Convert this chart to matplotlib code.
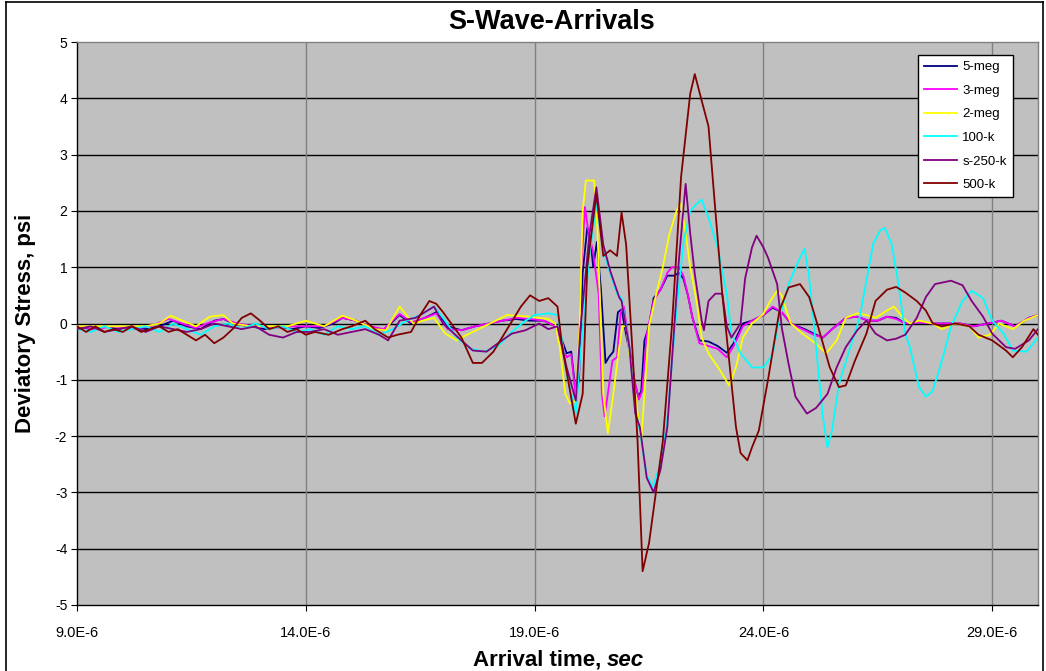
import matplotlib
matplotlib.use("Agg")
import matplotlib.pyplot as plt
from matplotlib.lines import Line2D

# ---------------- data (time in microseconds, stress in psi) ----------------
t_5meg = [9.0, 9.3, 9.6, 9.9, 10.2, 10.5, 10.8, 11.1, 11.4, 11.7, 12.0, 12.2, 12.5, 12.8, 13.1, 13.4, 13.7,
          14.0, 14.3, 14.6, 14.8, 15.1, 15.4, 15.7, 16.05, 16.3, 16.6, 16.85, 17.1, 17.4, 17.7, 18.0, 18.3,
          18.6, 18.9, 19.2, 19.45, 19.6, 19.7, 19.8, 19.9, 19.97, 20.05, 20.15, 20.22, 20.28, 20.36, 20.45,
          20.55, 20.62, 20.72, 20.82, 20.9, 21.0, 21.1, 21.2, 21.27, 21.33, 21.4, 21.5, 21.6, 21.75, 21.9,
          22.05, 22.15, 22.25, 22.35, 22.45, 22.6, 22.8, 23.0, 23.2, 23.35, 23.55, 23.75, 24.0, 24.2, 24.4,
          24.6, 24.9, 25.1, 25.3, 25.5, 25.8, 26.05, 26.3, 26.5, 26.7, 26.9, 27.1, 27.4, 27.7, 28.0, 28.3,
          28.6, 28.9, 29.2, 29.5, 29.8, 30.0]
v_5meg = [-0.05, -0.1, -0.05, -0.1, -0.05, -0.1, -0.05, 0.05, -0.05, -0.1, 0.05, 0.08, -0.02, -0.05, -0.1,
          -0.05, -0.1, -0.05, -0.08, 0.0, 0.1, 0.05, -0.05, -0.12, 0.15, 0.0, 0.1, 0.2, -0.05, -0.12, -0.05,
          0.0, 0.05, 0.08, 0.05, 0.05, -0.05, -0.3, -0.53, -0.5, -1.25, -1.0, 0.9, 1.7, 1.5, 1.0, 1.45, 0.6,
          -0.7, -0.6, -0.5, 0.2, 0.25, -0.2, -0.6, -1.1, -1.3, -1.2, -0.3, -0.05, 0.45, 0.6, 0.85, 0.85, 0.9,
          0.8, 0.5, 0.1, -0.3, -0.32, -0.4, -0.52, -0.35, 0.0, 0.05, 0.15, 0.28, 0.2, 0.0, -0.1, -0.18, -0.25,
          -0.1, 0.1, 0.12, 0.05, 0.05, 0.12, 0.1, 0.0, 0.02, 0.0, 0.0, 0.0, -0.05, 0.0, 0.05, -0.05, 0.1, 0.15]

t_3meg = [9.0, 9.4, 9.8, 10.2, 10.6, 11.0, 11.3, 11.6, 11.9, 12.2, 12.5, 12.9, 13.3, 13.7, 14.0, 14.4, 14.8,
          15.1, 15.4, 15.7, 16.05, 16.3, 16.6, 16.85, 17.1, 17.4, 17.7, 18.0, 18.3, 18.6, 18.9, 19.2, 19.45,
          19.6, 19.7, 19.8, 19.9, 19.95, 20.02, 20.1, 20.18, 20.27, 20.4, 20.47, 20.53, 20.62, 20.7, 20.8,
          20.88, 20.95, 21.07, 21.18, 21.28, 21.35, 21.45, 21.6, 21.75, 21.9, 22.0, 22.15, 22.25, 22.35,
          22.45, 22.6, 22.8, 23.0, 23.2, 23.35, 23.55, 23.75, 24.0, 24.2, 24.4, 24.6, 24.9, 25.1, 25.3, 25.5,
          25.8, 26.05, 26.3, 26.5, 26.7, 26.9, 27.1, 27.4, 27.7, 28.0, 28.3, 28.6, 28.9, 29.2, 29.5, 29.8, 30.0]
v_3meg = [-0.05, -0.1, -0.05, -0.1, -0.05, 0.08, 0.0, -0.08, 0.02, 0.08, 0.0, -0.05, -0.08, -0.05, -0.05,
          -0.05, 0.1, 0.05, -0.05, -0.1, 0.17, 0.02, 0.1, 0.18, -0.1, -0.12, -0.05, 0.0, 0.05, 0.1, 0.08,
          0.05, -0.05, -0.4, -0.6, -0.55, -1.3, -1.0, 1.0, 2.07, 1.6, 1.3, 0.53, -1.25, -1.65, -1.13, -0.66,
          -0.6, 0.2, 0.3, -0.4, -1.0, -1.35, -1.2, -0.2, 0.4, 0.6, 0.9, 1.0, 1.0, 0.85, 0.5, 0.1, -0.35,
          -0.4, -0.45, -0.6, -0.4, -0.05, 0.05, 0.15, 0.3, 0.2, 0.0, -0.12, -0.2, -0.25, -0.1, 0.1, 0.12,
          0.05, 0.05, 0.12, 0.08, 0.0, 0.02, 0.0, 0.0, 0.0, -0.05, 0.0, 0.05, -0.05, 0.1, 0.15]

t_2meg = [9.0, 9.5, 10.0, 10.5, 10.8, 11.05, 11.3, 11.6, 11.9, 12.2, 12.4, 12.8, 13.2, 13.6, 14.0, 14.4, 14.8,
          15.1, 15.5, 15.75, 16.05, 16.35, 16.55, 16.8, 17.05, 17.3, 17.4, 17.9, 18.4, 18.9, 19.3, 19.45,
          19.55, 19.67, 19.77, 19.9, 19.98, 20.05, 20.12, 20.3, 20.37, 20.45, 20.5, 20.6, 20.7, 20.85, 20.92,
          21.0, 21.07, 21.2, 21.33, 21.45, 21.5, 21.66, 21.8, 21.95, 22.1, 22.2, 22.3, 22.4, 22.55, 22.65,
          22.8, 23.05, 23.25, 23.4, 23.55, 23.75, 24.0, 24.15, 24.3, 24.4, 24.5, 24.6, 24.85, 25.15, 25.37,
          25.6, 25.8, 26.05, 26.25, 26.45, 26.7, 26.85, 27.05, 27.2, 27.4, 27.7, 27.9, 28.2, 28.5, 28.7,
          28.95, 29.15, 29.45, 29.7, 30.0]
v_2meg = [-0.05, -0.05, -0.05, -0.05, 0.0, 0.14, 0.05, -0.05, 0.12, 0.15, 0.0, -0.05, -0.05, -0.05, 0.05,
          -0.05, 0.14, 0.05, -0.1, -0.12, 0.3, 0.0, 0.05, 0.1, -0.18, -0.3, -0.25, -0.05, 0.15, 0.12, 0.08,
          0.0, -0.42, -1.25, -1.42, -1.37, -0.1, 2.0, 2.54, 2.54, 1.7, -0.05, -1.25, -1.95, -1.37, -0.42,
          -0.05, -0.05, -0.53, -1.25, -2.07, -0.66, -0.05, 0.53, 1.0, 1.6, 2.0, 2.13, 1.6, 1.0, 0.35, -0.25,
          -0.53, -0.83, -1.1, -0.78, -0.25, 0.0, 0.17, 0.4, 0.58, 0.5, 0.23, 0.0, -0.18, -0.36, -0.53, -0.3,
          0.1, 0.18, 0.15, 0.1, 0.23, 0.3, 0.1, 0.0, 0.05, 0.0, -0.1, 0.0, -0.05, -0.25, -0.2, 0.0, -0.1,
          0.05, 0.15]

t_100k = [9.0, 9.3, 9.6, 9.9, 10.2, 10.5, 10.8, 11.1, 11.4, 11.7, 12.0, 12.3, 12.6, 12.9, 13.2, 13.5, 13.8,
          14.1, 14.4, 14.7, 15.0, 15.3, 15.6, 15.9, 16.2, 16.5, 16.8, 17.0, 17.3, 17.6, 17.9, 18.2, 18.5,
          18.8, 19.0, 19.3, 19.5, 19.6, 19.7, 19.9, 20.0, 20.2, 20.35, 20.5, 20.65, 20.8, 20.9, 21.07, 21.2,
          21.3, 21.45, 21.58, 21.75, 21.9, 22.0, 22.1, 22.25, 22.4, 22.55, 22.65, 22.8, 23.0, 23.2, 23.3,
          23.5, 23.75, 24.0, 24.2, 24.35, 24.55, 24.8, 24.9, 25.0, 25.15, 25.3, 25.4, 25.5, 25.65, 25.9,
          26.1, 26.25, 26.4, 26.55, 26.65, 26.8, 26.95, 27.1, 27.2, 27.4, 27.55, 27.7, 27.9, 28.1, 28.35,
          28.55, 28.8, 29.0, 29.25, 29.45, 29.75, 30.0]
v_100k = [-0.1, -0.15, -0.05, -0.15, -0.1, -0.05, -0.15, 0.0, -0.1, -0.2, -0.05, 0.0, -0.1, 0.0, -0.1,
          -0.05, -0.15, -0.1, -0.2, -0.05, -0.1, -0.05, -0.2, -0.1, 0.05, 0.15, 0.3, 0.1, -0.25, -0.45,
          -0.5, -0.4, -0.15, 0.05, 0.15, 0.18, 0.15, -0.3, -0.9, -1.6, -0.55, 1.23, 2.13, 1.3, 0.9, 0.53,
          0.45, -0.42, -1.5, -1.9, -2.7, -2.9, -2.5, -1.7, -0.7, 0.23, 1.42, 2.0, 2.13, 2.2, 1.88, 1.35,
          0.53, -0.18, -0.53, -0.78, -0.78, -0.55, 0.1, 0.7, 1.17, 1.33, 0.82, -0.42, -1.67, -2.2, -1.9,
          -1.07, -0.42, 0.1, 0.76, 1.42, 1.65, 1.7, 1.42, 0.7, -0.18, -0.42, -1.13, -1.3, -1.2, -0.66,
          -0.05, 0.4, 0.58, 0.45, 0.05, -0.18, -0.48, -0.5, -0.25]

t_250k = [9.0, 9.3, 9.6, 9.9, 10.2, 10.5, 10.8, 11.1, 11.4, 11.7, 12.0, 12.3, 12.6, 12.9, 13.2, 13.5, 13.8,
          14.1, 14.4, 14.7, 15.0, 15.3, 15.6, 15.8, 16.05, 16.4, 16.8, 17.0, 17.4, 17.65, 17.95, 18.2, 18.5,
          18.8, 19.1, 19.3, 19.5, 19.7, 19.9, 20.0, 20.2, 20.35, 20.5, 20.65, 20.85, 20.9, 21.07, 21.2,
          21.3, 21.45, 21.6, 21.75, 21.9, 22.0, 22.15, 22.3, 22.4, 22.5, 22.65, 22.7, 22.8, 22.95, 23.1,
          23.2, 23.3, 23.5, 23.6, 23.75, 23.85, 24.0, 24.1, 24.3, 24.4, 24.55, 24.7, 24.95, 25.15, 25.4,
          25.6, 25.8, 26.05, 26.25, 26.45, 26.7, 26.9, 27.1, 27.35, 27.55, 27.75, 28.1, 28.35, 28.55, 28.8,
          29.0, 29.3, 29.5, 29.8, 30.0]
v_250k = [-0.1, -0.05, -0.15, -0.1, -0.05, -0.15, -0.05, -0.1, -0.15, -0.1, 0.0, -0.05, -0.1, -0.05, -0.2,
          -0.25, -0.15, -0.15, -0.1, -0.2, -0.15, -0.1, -0.2, -0.3, 0.05, 0.1, 0.3, 0.0, -0.3, -0.48, -0.5,
          -0.35, -0.18, -0.12, 0.0, -0.1, -0.05, -0.78, -1.37, -0.1, 1.6, 2.42, 1.4, 0.94, 0.46, 0.4, -0.42,
          -1.6, -1.84, -2.74, -3.0, -2.6, -1.84, -0.66, 1.1, 2.48, 1.6, 0.88, 0.05, -0.12, 0.4, 0.53, 0.53,
          -0.05, -0.25, 0.0, 0.8, 1.35, 1.56, 1.35, 1.17, 0.7, -0.07, -0.72, -1.3, -1.6, -1.5, -1.25, -0.78,
          -0.42, -0.12, 0.05, -0.18, -0.3, -0.27, -0.2, 0.1, 0.47, 0.7, 0.76, 0.68, 0.4, 0.12, -0.18, -0.42,
          -0.45, -0.3, -0.1]

t_500k = [9.0, 9.2, 9.4, 9.6, 9.8, 10.0, 10.2, 10.4, 10.6, 10.8, 11.0, 11.2, 11.4, 11.6, 11.8, 12.0, 12.2,
          12.4, 12.6, 12.8, 13.0, 13.2, 13.4, 13.6, 13.8, 14.0, 14.2, 14.5, 14.8, 15.0, 15.3, 15.5, 15.8,
          16.0, 16.3, 16.5, 16.7, 16.85, 17.0, 17.4, 17.65, 17.85, 18.1, 18.4, 18.7, 18.9, 19.1, 19.3, 19.5,
          19.6, 19.9, 20.05, 20.15, 20.35, 20.5, 20.65, 20.8, 20.9, 21.0, 21.15, 21.25, 21.36, 21.5, 21.8,
          22.0, 22.2, 22.4, 22.5, 22.65, 22.8, 22.95, 23.1, 23.25, 23.4, 23.5, 23.65, 23.75, 23.9, 24.1,
          24.35, 24.55, 24.8, 25.0, 25.2, 25.45, 25.65, 25.8, 26.0, 26.25, 26.45, 26.7, 26.9, 27.1, 27.35,
          27.55, 27.7, 27.9, 28.2, 28.5, 28.7, 29.0, 29.3, 29.45, 29.65, 29.9, 30.0]
v_500k = [-0.05, -0.15, -0.05, -0.15, -0.1, -0.15, -0.05, -0.15, -0.1, -0.05, -0.15, -0.1, -0.2, -0.3, -0.2,
          -0.35, -0.25, -0.1, 0.1, 0.18, 0.05, -0.1, -0.05, -0.15, -0.1, -0.2, -0.15, -0.2, -0.1, -0.05,
          0.05, -0.1, -0.25, -0.2, -0.15, 0.15, 0.4, 0.35, 0.2, -0.25, -0.7, -0.7, -0.5, -0.1, 0.3, 0.5,
          0.4, 0.45, 0.3, -0.4, -1.78, -1.25, 1.0, 2.3, 1.2, 1.3, 1.2, 1.97, 1.4, -0.65, -2.1, -4.4, -3.9,
          -2.1, -0.05, 2.6, 4.08, 4.43, 3.96, 3.5, 2.0, 0.53, -0.65, -1.84, -2.3, -2.43, -2.2, -1.9, -1.0,
          0.23, 0.64, 0.7, 0.47, -0.07, -0.78, -1.13, -1.1, -0.66, -0.18, 0.4, 0.6, 0.65, 0.55, 0.4, 0.23,
          0.0, -0.05, 0.0, -0.05, -0.2, -0.3, -0.48, -0.6, -0.42, -0.1, -0.2]

series_names = ["5-meg", "3-meg", "2-meg", "100-k", "s-250-k", "500-k"]
series_colors = ["#000080", "#FF00FF", "#FFFF00", "#00FFFF", "#800080", "#800000"]

x_ticks = [9, 14, 19, 24, 29]
x_tick_labels = ["9.0E-6", "14.0E-6", "19.0E-6", "24.0E-6", "29.0E-6"]
y_ticks = [-5, -4, -3, -2, -1, 0, 1, 2, 3, 4, 5]
y_tick_labels = ["-5", "-4", "-3", "-2", "-1", "0", "1", "2", "3", "4", "5"]

# ---------------- figure ----------------
plt.rcParams['font.family'] = ['Liberation Sans', 'DejaVu Sans']
W, H = 1046, 671
fig = plt.figure(figsize=(W / 100, H / 100), dpi=100)
fig.patch.set_facecolor("white")

L, R, T, B = 77, 1038, 42, 605
ax = fig.add_axes([L / W, 1 - B / H, (R - L) / W, (B - T) / H])
ax.set_facecolor("#C0C0C0")

all_t = [t_5meg, t_3meg, t_2meg, t_100k, t_250k, t_500k]
all_v = [v_5meg, v_3meg, v_2meg, v_100k, v_250k, v_500k]
for tt, vv, name, col in zip(all_t, all_v, series_names, series_colors):
    ax.plot(tt, vv, color=col, lw=1.3, label=name, zorder=3)

ax.set_xlim(9, 30)
ax.set_ylim(-5, 5)
ax.set_xticks(x_ticks)
ax.set_xticklabels(x_tick_labels)
ax.set_yticks(y_ticks)
ax.set_yticklabels(y_tick_labels)

for yv in y_ticks[1:-1]:
    ax.axhline(yv, color="black", lw=1.0, zorder=1)
for xv in x_ticks[1:]:
    ax.axvline(xv, color="#808080", lw=1.0, zorder=1)

ax.tick_params(axis="both", direction="out", length=4, width=0.8, color="black",
               labelcolor="black")
ax.tick_params(axis="x", pad=11, labelsize=10.5)
ax.tick_params(axis="y", pad=3, labelsize=10)

for s in ["left", "bottom"]:
    ax.spines[s].set_color("black")
    ax.spines[s].set_linewidth(1.0)
for s in ["top", "right"]:
    ax.spines[s].set_color("#808080")
    ax.spines[s].set_linewidth(1.0)

fig.text(552 / W, 1 - 22 / H, "S-Wave-Arrivals", ha="center", va="center",
         fontsize=19.5, fontweight="bold")
fig.text(26 / W, 1 - 323 / H, "Deviatory Stress, psi", rotation=90, ha="center", va="center",
         fontsize=16, fontweight="bold")
fig.text(607 / W, 1 - 660 / H, "Arrival time, ", ha="right", va="center",
         fontsize=16, fontweight="bold")
fig.text(607 / W, 1 - 660 / H, "sec", ha="left", va="center",
         fontsize=16, fontweight="bold", fontstyle="italic")

leg = ax.legend(loc="upper left", bbox_to_anchor=(918 / W, 1 - 55 / H), bbox_transform=fig.transFigure,
                fontsize=9.5, frameon=True, fancybox=False, framealpha=1, edgecolor="black",
                handlelength=2.5, handletextpad=0.4, labelspacing=0.86, borderpad=0.45,
                borderaxespad=0)
leg.get_frame().set_linewidth(1.0)
for h in leg.get_lines():
    h.set_linewidth(1.3)

# chart-area border
fig.add_artist(Line2D([6 / W, 6 / W], [0, 1 - 2 / H], color="black", lw=1.2))
fig.add_artist(Line2D([6 / W, 1043 / W], [1 - 2 / H, 1 - 2 / H], color="black", lw=1.2))
fig.add_artist(Line2D([1043 / W, 1043 / W], [0, 1 - 2 / H], color="black", lw=1.2))

fig.savefig("out.png", dpi=100)
